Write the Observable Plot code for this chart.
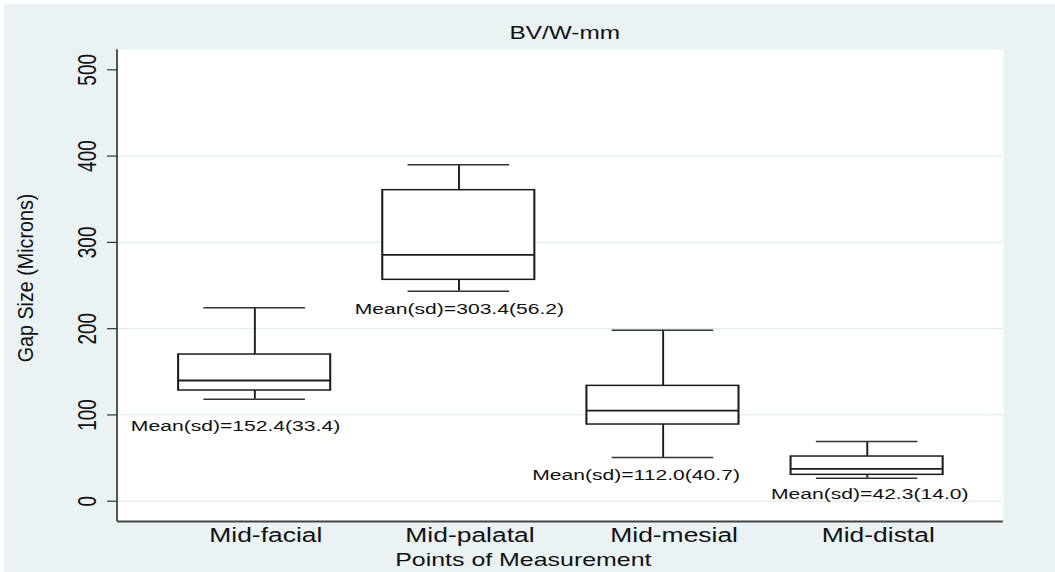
<!DOCTYPE html>
<html>
<head>
<meta charset="utf-8">
<script src="https://cdn.jsdelivr.net/npm/d3@7"></script>
<script src="https://cdn.jsdelivr.net/npm/@observablehq/plot@0.6"></script>
<style>
  html, body { margin: 0; padding: 0; background: #ffffff; }
  #chart { position: relative; width: 1055px; height: 572px; overflow: hidden; }
  #chart svg { position: absolute; left: 0; top: 0; }
  .edge { position: absolute; background: #ffffff; }
</style>
</head>
<body>
<div id="chart"></div>
<script>
// ---- data: gap size (microns) per point of measurement ----
const categories  = ["Mid-facial", "Mid-palatal", "Mid-mesial", "Mid-distal"];
const whiskerLow  = [118.2, 243.4, 50.6, 26.7];
const quartile1   = [128.3, 256.6, 88.9, 30.6];
const medians     = [139.9, 285.6, 105.1, 37.6];
const quartile3   = [170.0, 360.5, 133.7, 51.8];
const whiskerHigh = [224.1, 389.9, 198.2, 69.2];
const means       = [152.4, 303.4, 112.0, 42.3];
const sds         = [33.4, 56.2, 40.7, 14.0];
const yTicks      = [0, 100, 200, 300, 400, 500];
const gridTicks   = [0, 100, 200, 300, 400];

const chartTitle = "BV/W-mm";
const xTitle = "Points of Measurement";
const yTitle = "Gap Size (Microns)";

const rows = categories.map((cat, i) => ({
  cat,
  lo: whiskerLow[i], q1: quartile1[i], med: medians[i], q3: quartile3[i], hi: whiskerHigh[i],
  label: `Mean(sd)=${means[i].toFixed(1)}(${sds[i].toFixed(1)})`
}));

// Where each Mean(sd) annotation sits (value on y, pixel nudge on x)
const annotY  = [86.7, 223.1, 30.4, 8.0];
const annotDx = [-14.1, 0.3, -19.8, 1.8];

// The graph is laid out in a narrower space and stretched horizontally to full width
const OUT_W = 1055, H = 572, W = 770;
const M = { left: 85.4, right: 38.1, top: 49.3, bottom: 51 };
const frameW = W - M.left - M.right;
const yDomain = [-23.5, 523.2];
const axisLineW = 1.1;

const ink = "#1c1c1c";
const font = "Liberation Sans, Arial, Helvetica, sans-serif";

const plot = Plot.plot({
  width: W,
  height: H,
  marginLeft: M.left,
  marginRight: M.right,
  marginTop: M.top,
  marginBottom: M.bottom,
  style: { background: "#eaf2f3", fontFamily: font, color: "#000" },
  x: { domain: categories, paddingInner: 0.254, paddingOuter: 0.283, axis: null },
  y: { domain: yDomain, axis: null },
  marks: [
    Plot.frame({ fill: "white", stroke: "none" }),
    Plot.ruleY(gridTicks, { stroke: "#e4edf0", strokeWidth: 1.3 }),
    // y axis line: a thin strip at the left edge of the plot region
    Plot.rect([0], {
      y1: yDomain[0], y2: yDomain[1], fill: "#222",
      insetRight: frameW - axisLineW, dx: -axisLineW / 2
    }),
    // x axis line along the bottom of the plot region
    Plot.ruleY([yDomain[0]], { stroke: "#444", strokeWidth: 1.8 }),
    // whiskers
    Plot.ruleX(rows, { x: "cat", y1: "q3", y2: "hi", stroke: ink, strokeWidth: 1.4 }),
    Plot.ruleX(rows, { x: "cat", y1: "lo", y2: "q1", stroke: ink, strokeWidth: 1.4 }),
    Plot.tickY(rows, { x: "cat", y: "hi", stroke: "#333", strokeWidth: 1.5, insetLeft: 18.45, insetRight: 18.45 }),
    Plot.tickY(rows, { x: "cat", y: "lo", stroke: "#333", strokeWidth: 1.5, insetLeft: 18.45, insetRight: 18.45 }),
    // boxes and medians
    Plot.barY(rows, { x: "cat", y1: "q1", y2: "q3", fill: "white", stroke: ink, strokeWidth: 1.5 }),
    Plot.tickY(rows, { x: "cat", y: "med", stroke: ink, strokeWidth: 1.8 }),
    // axes
    Plot.axisY(yTicks, {
      tickSize: 7.3, tickPadding: 8.5, tickRotate: -90, fontSize: 19,
      stroke: "#333", strokeWidth: 1.2, fill: "#111", label: null
    }),
    Plot.axisX({ tickSize: 0, tickPadding: 6.5, fontSize: 19.3, dx: 8, fill: "#111", label: null }),
    // Mean(sd) annotations
    ...rows.map((r, i) => Plot.text([r], {
      x: "cat", y: () => annotY[i], text: "label", dx: annotDx[i],
      fontSize: 15.4, lineAnchor: "middle", textAnchor: "middle", fill: "#111"
    })),
    // titles
    Plot.text([chartTitle], {
      frameAnchor: "top", dx: 3, dy: -11, lineAnchor: "bottom",
      fontSize: 17.8, fill: "#111", letterSpacing: 1.4
    }),
    Plot.text([xTitle], {
      frameAnchor: "bottom", dx: -27.2, dy: 44.7, lineAnchor: "bottom",
      fontSize: 18.2, fill: "#111", letterSpacing: 0.45
    }),
    Plot.text([yTitle], {
      frameAnchor: "left", dx: -61.6, dy: -7.7, rotate: -90,
      lineAnchor: "bottom", textAnchor: "middle", fontSize: 19.7, fill: "#111"
    })
  ]
});

// stretch to the output width
plot.setAttribute("width", OUT_W);
plot.setAttribute("height", H);
plot.setAttribute("viewBox", `0 0 ${W} ${H}`);
plot.setAttribute("preserveAspectRatio", "none");
plot.style.maxWidth = "none";
plot.style.width = OUT_W + "px";
plot.style.height = H + "px";

// narrow the rotated y title's glyphs back to normal proportions
plot.querySelectorAll("text").forEach(t => {
  if (t.textContent === yTitle) {
    const tr = t.getAttribute("transform") || "";
    t.setAttribute("transform", tr + " scale(1,0.82)");
  }
});

const chart = document.getElementById("chart");
chart.appendChild(plot);

// thin white edge at the top and left of the graph region
const edgeTop = document.createElement("div");
edgeTop.className = "edge";
Object.assign(edgeTop.style, { left: "0px", top: "0px", width: OUT_W + "px", height: "4px" });
const edgeLeft = document.createElement("div");
edgeLeft.className = "edge";
Object.assign(edgeLeft.style, { left: "0px", top: "0px", width: "4px", height: H + "px" });
chart.appendChild(edgeTop);
chart.appendChild(edgeLeft);
</script>
</body>
</html>
